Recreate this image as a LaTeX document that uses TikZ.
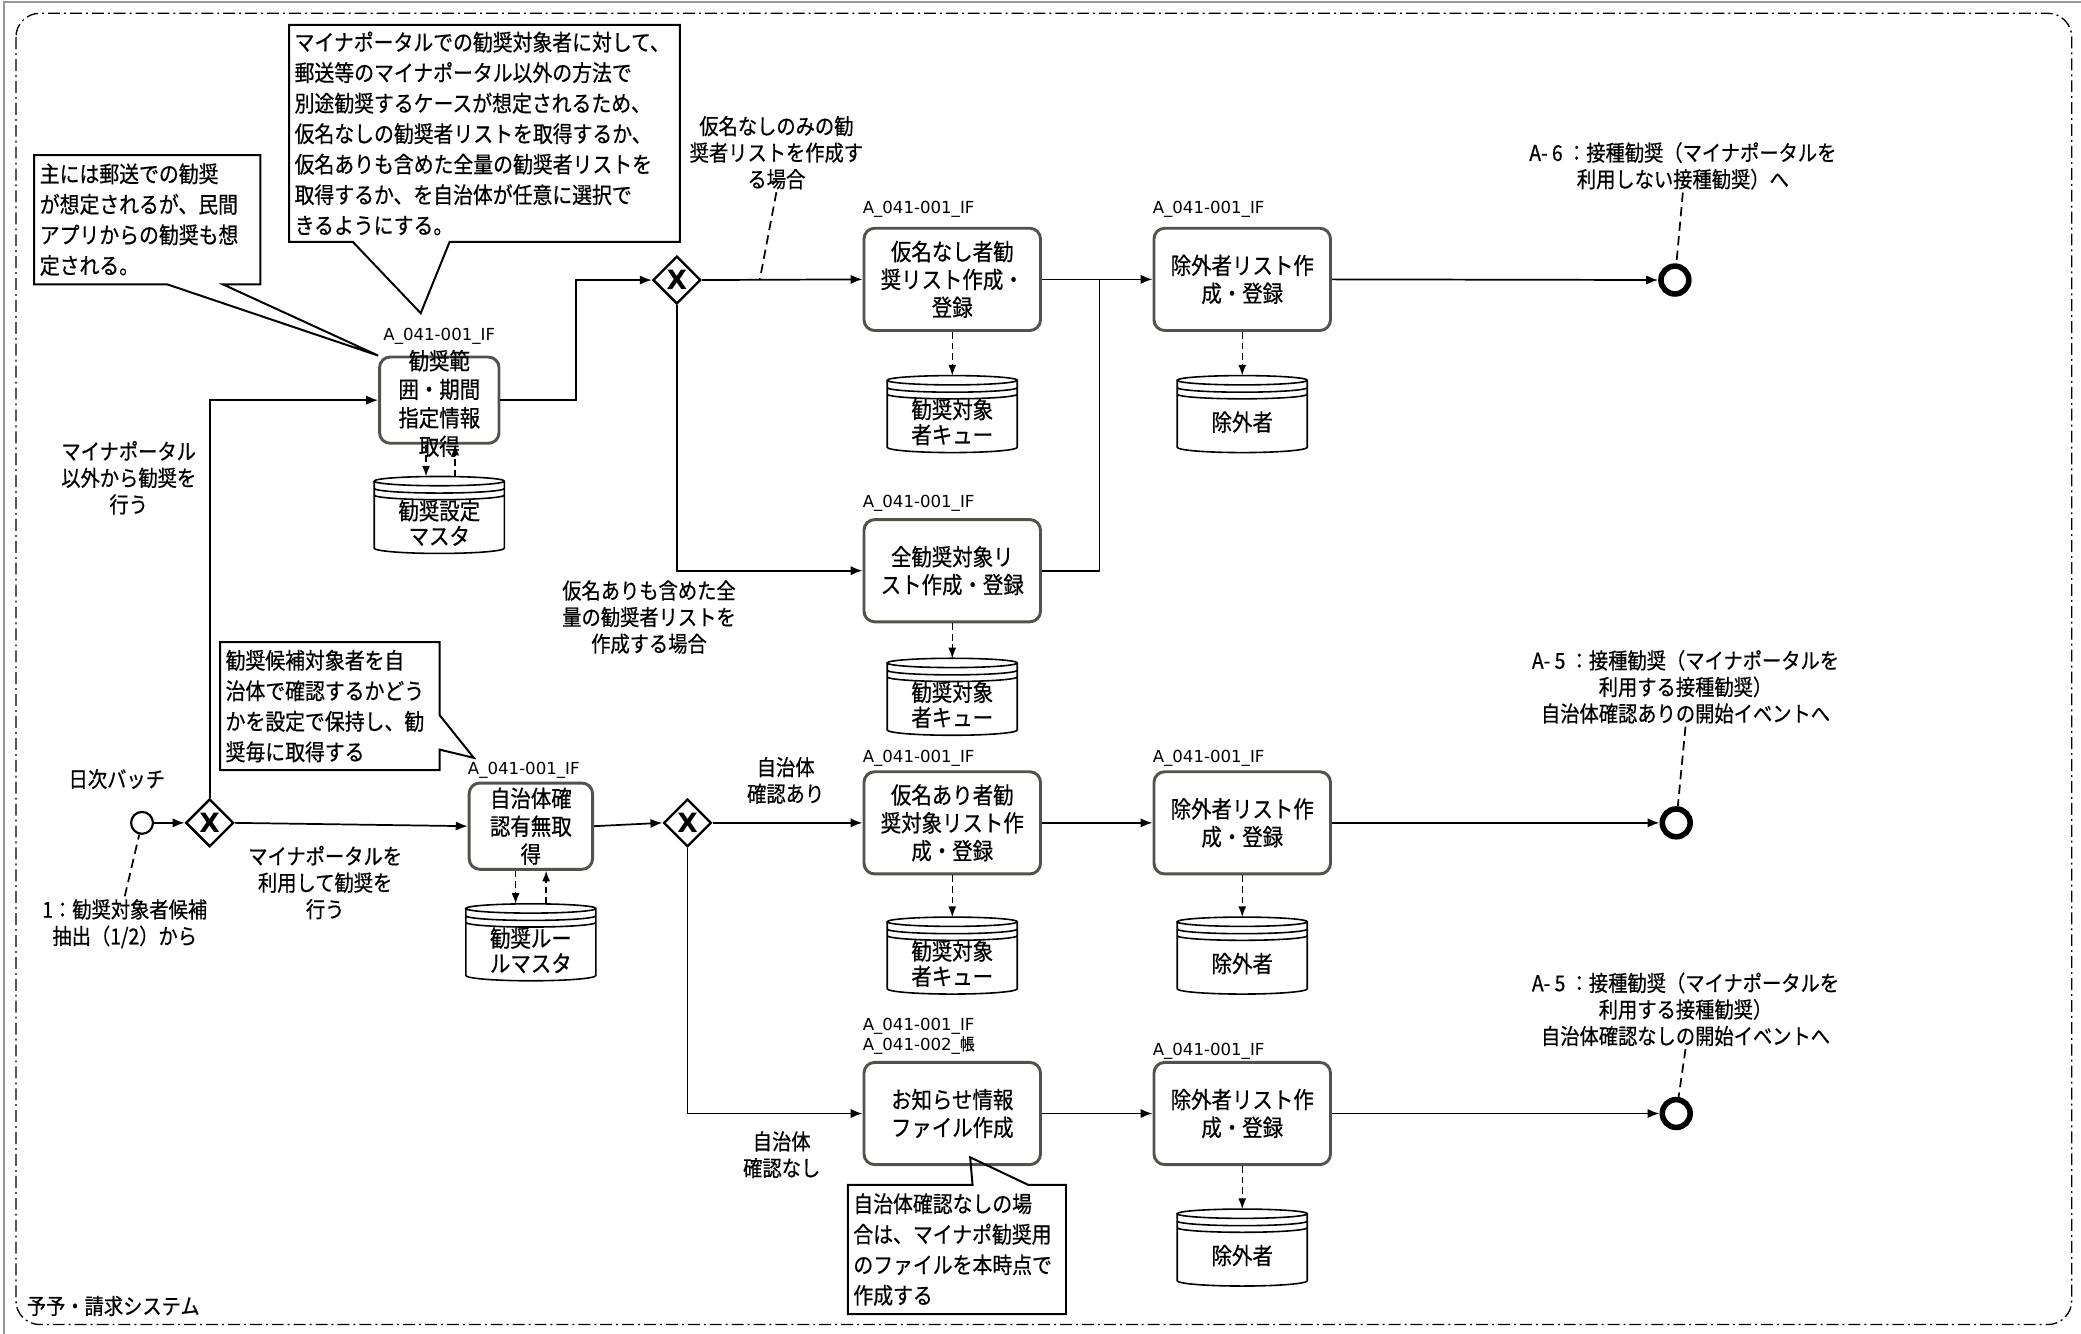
\documentclass[tikz,border=0pt]{standalone}
\usepackage{fontspec}
\setmainfont{Noto Sans CJK JP}[FakeStretch=0.88, FakeBold=0.6]
\newfontfamily\idfont{DejaVu Sans}
\usetikzlibrary{shapes.geometric}
\usetikzlibrary{arrows.meta}
\usetikzlibrary{calc}
\definecolor{taskgray}{RGB}{82,82,76}
\definecolor{framegray}{RGB}{150,150,150}
\newcommand{\ifname}{{\idfont A\_041-001\_IF}}
\tikzset{
  task/.style={draw=taskgray, line width=2.2pt, rounded corners=8pt, align=center,
    font=\fontsize{17.5}{21}\selectfont, minimum width=133pt, minimum height=77pt, inner sep=2pt},
  tasktext/.style={align=center, font=\fontsize{17.5}{21.5}\selectfont, inner sep=0pt},
  idtext/.style={align=left, font=\fontsize{12.5}{15}\selectfont, inner sep=0pt},
  gateway/.style={draw, diamond, line width=1.8pt, minimum size=36pt, inner sep=0pt,
    font=\idfont\bfseries\fontsize{20}{20}\selectfont},
  startev/.style={draw, circle, line width=1.6pt, minimum size=16.5pt, inner sep=0pt},
  endev/.style={draw, circle, line width=4.2pt, minimum size=21pt, inner sep=0pt},
  store/.style={minimum width=98pt, minimum height=38pt, inner sep=0pt, outer sep=0pt,
    align=center, font=\fontsize{17.5}{19}\selectfont},
  storeline/.style={line width=1.2pt},
  note/.style={align=left, inner sep=4pt, font=\fontsize{17}{23}\selectfont},
  noteline/.style={line width=1.5pt, line join=miter},
  lbl/.style={align=center, inner sep=2pt, font=\fontsize{16.5}{20}\selectfont},
  seq/.style={line width=1.3pt},
  flow/.style={seq, -{Latex[length=9pt, width=7pt]}},
  assoc/.style={line width=1.1pt, dash pattern=on 5pt off 3pt, -{Latex[length=8pt, width=6pt]}},
  textlink/.style={line width=1.3pt, dash pattern=on 7pt off 4pt},
  pool/.style={line width=1pt, rounded corners=18pt, dash pattern=on 9pt off 3pt on 1.5pt off 3pt},
}

\begin{document}
\begin{tikzpicture}[x=1pt, y=-1pt]
\useasboundingbox (0,0) rectangle (1568,1005);
\draw[framegray, line width=1.2pt] (3,1005) -- (3,1.5) -- (1568,1.5);
\draw[pool] (12,10) rectangle (1561,998);
\node[lbl, anchor=west] (sys) at (18,984) {予予・請求システム};

% start and first split
\node[startev] (start) at (107,620) {};
\node[lbl] (batch) at (88,587) {日次バッチ};
\node[lbl] (src) at (94,696) {1：勧奨対象者候補\\抽出（1/2）から};
\node[gateway] (gw1) at (158,620) {X};
\node[lbl] (other) at (97,360) {マイナポータル\\以外から勧奨を\\行う};
\node[lbl] (portal) at (245,665) {マイナポータルを\\利用して勧奨を\\行う};

% upper branch
\node[task, minimum width=90pt, minimum height=65pt,
  label={[idtext, anchor=south, yshift=8pt]north:\ifname},
  label={[tasktext, yshift=-2.5pt]center:{勧奨範\\囲・期間\\指定情報\\取得}}] (rng) at (331,301.5) {};
\node[store] (rngdb) at (331,394) {勧奨設定\\マスタ};
\node[gateway] (gw2) at (510,211) {X};
\node[lbl] (onlyno) at (585,115) {仮名なしのみの勧\\奨者リストを作成す\\る場合};
\node[lbl] (withall) at (489,465) {仮名ありも含めた全\\量の勧奨者リストを\\作成する場合};
\node[task, label={[idtext, anchor=south west, yshift=7pt]north west:\ifname}] (kna) at (717.5,210.5) {仮名なし者勧\\奨リスト作成・\\登録};
\node[store] (q1) at (717.5,318) {勧奨対象\\者キュー};
\node[task, label={[idtext, anchor=south west, yshift=5pt]north west:\ifname}] (all) at (717.5,430) {全勧奨対象リ\\スト作成・登録};
\node[store] (q2) at (717.5,531) {勧奨対象\\者キュー};
\node[task, label={[idtext, anchor=south west, yshift=7pt]north west:\ifname}] (ex1) at (936,210.5) {除外者リスト作\\成・登録};
\node[store] (ex1db) at (936,318) {除外者};
\node[endev] (end1) at (1262,211) {};
\node[lbl] (a6) at (1268,125) {A- 6 ：接種勧奨（マイナポータルを\\利用しない接種勧奨）へ};

% middle branch
\node[task, minimum width=93pt, minimum height=65pt,
  label={[idtext, anchor=south west, yshift=2pt]north west:\ifname}] (chk) at (400,622.5) {自治体確\\認有無取\\得};
\node[store] (ruledb) at (400,716) {勧奨ルー\\ルマスタ};
\node[gateway] (gw3) at (518,620) {X};
\node[lbl] (yes) at (592,588) {自治体\\確認あり};
\node[lbl] (no) at (589,870) {自治体\\確認なし};
\node[task, label={[idtext, anchor=south west, yshift=3pt]north west:\ifname}] (kari) at (717.5,620) {仮名あり者勧\\奨対象リスト作\\成・登録};
\node[store] (q3) at (717.5,726) {勧奨対象\\者キュー};
\node[task, label={[idtext, anchor=south west, yshift=3pt]north west:\ifname}] (ex2) at (936,620) {除外者リスト作\\成・登録};
\node[store] (ex2db) at (936,726) {除外者};
\node[endev] (end2) at (1263,620) {};
\node[lbl] (a5yes) at (1270,517.5) {A- 5 ：接種勧奨（マイナポータルを\\利用する接種勧奨）\\自治体確認ありの開始イベントへ};

% lower branch
\node[task, label={[idtext, anchor=south west, yshift=5pt]north west:{\ifname\\{\idfont A\_041-002\_}帳}}] (info) at (717.5,839) {お知らせ情報\\ファイル作成};
\node[task, label={[idtext, anchor=south west, yshift=1pt]north west:\ifname}] (ex3) at (936,839) {除外者リスト作\\成・登録};
\node[store] (ex3db) at (936,946) {除外者};
\node[endev] (end3) at (1263,839) {};
\node[lbl] (a5no) at (1270,760.5) {A- 5 ：接種勧奨（マイナポータルを\\利用する接種勧奨）\\自治体確認なしの開始イベントへ};

% notes
\node[note, text width=162pt, minimum height=97pt] (note1) at (111,165.5) {主には郵送での勧奨\\が想定されるが、民間\\アプリからの勧奨も想\\定される。};
\node[note, text width=286pt, minimum height=163pt] (note2) at (365,100.5) {マイナポータルでの勧奨対象者に対して、\\郵送等のマイナポータル以外の方法で\\別途勧奨するケースが想定されるため、\\仮名なしの勧奨者リストを取得するか、\\仮名ありも含めた全量の勧奨者リストを\\取得するか、を自治体が任意に選択で\\きるようにする。};
\node[note, text width=157pt, minimum height=96pt] (note3) at (248.5,532) {勧奨候補対象者を自\\治体で確認するかどう\\かを設定で保持し、勧\\奨毎に取得する};
\node[note, text width=156pt, minimum height=97pt] (note4) at (721,941.5) {自治体確認なしの場\\合は、マイナポ勧奨用\\のファイルを本時点で\\作成する};
\coordinate (tip2) at (317,236);
\coordinate (tip3) at (357,571);
\coordinate (tip4) at (731,872);
\draw[noteline] (note1.south west) -- (note1.north west) -- (note1.north east) -- (note1.south east)
  -- ([xshift=142pt]note1.south west) -- (rng.north west) -- ([xshift=100pt]note1.south west) -- cycle;
\draw[noteline] (note2.south west) -- (note2.north west) -- (note2.north east) -- (note2.south east)
  -- ([xshift=121pt]note2.south west) -- (tip2) -- ([xshift=48pt]note2.south west) -- cycle;
\draw[noteline] (note3.south west) -- (note3.north west) -- (note3.north east)
  -- ([yshift=-55pt]note3.north east) -- (tip3) -- ([yshift=-81pt]note3.north east) -- (note3.south east) -- cycle;
\draw[noteline] (note4.south west) -- (note4.north west) -- ([xshift=94pt]note4.north west) -- (tip4)
  -- ([xshift=136pt]note4.north west) -- (note4.north east) -- (note4.south east) -- cycle;

% data stores
\foreach \s in {rngdb,q1,q2,q3,ruledb,ex1db,ex2db,ex3db}
  \draw[storeline] ([yshift=12.5pt]\s.north west) -- (\s.south west)
    arc[start angle=180, end angle=360, x radius=49pt, y radius=4pt]
    -- ([yshift=12.5pt]\s.north east)
    arc[start angle=0, end angle=180, x radius=49pt, y radius=3.5pt]
    arc[start angle=180, end angle=360, x radius=49pt, y radius=3.5pt]
    ([yshift=7pt]\s.north west) arc[start angle=180, end angle=360, x radius=49pt, y radius=3.5pt]
    ([yshift=2pt]\s.north west) arc[start angle=180, end angle=360, x radius=49pt, y radius=3.5pt];

% sequence flows
\draw[flow] (start) -- (gw1);
\draw[flow] (gw1.north) |- (rng.west);
\draw[flow] (gw1.east) -- (chk.west);
\draw[flow] (rng.east) -- ++(57pt,0pt) |- (gw2.west);
\draw[flow] (gw2.east) -- (kna.west);
\draw[flow] (gw2.south) |- (all.west);
\draw[flow] (kna.east) -- (ex1.west);
\coordinate (join) at ($(kna.east)!0.52!(ex1.west)$);
\draw[seq] (all.east) -| (join);
\draw[flow] (ex1.east) -- (end1);
\draw[flow] (chk.east) -- (gw3.west);
\draw[flow] (gw3.east) -- (kari.west);
\draw[flow] (gw3.south) |- (info.west);
\draw[flow] (kari.east) -- (ex2.west);
\draw[flow] (ex2.east) -- (end2);
\draw[flow] (info.east) -- (ex3.west);
\draw[flow] (ex3.east) -- (end3);

% data associations
\draw[assoc] ([xshift=-10pt]rng.south) -- ([xshift=-10pt, yshift=16pt]rngdb.north);
\draw[assoc] ([xshift=12pt, yshift=16pt]rngdb.north) -- ([xshift=12pt]rng.south);
\draw[assoc] ([xshift=-11.5pt]chk.south) -- ([xshift=-11.5pt, yshift=16pt]ruledb.north);
\draw[assoc] ([xshift=11.5pt, yshift=16pt]ruledb.north) -- ([xshift=11.5pt]chk.south);
\draw[assoc] (kna.south) -- ([yshift=16pt]q1.north);
\draw[assoc] (all.south) -- ([yshift=16pt]q2.north);
\draw[assoc] (kari.south) -- ([yshift=16pt]q3.north);
\draw[assoc] (ex1.south) -- ([yshift=16pt]ex1db.north);
\draw[assoc] (ex2.south) -- ([yshift=16pt]ex2db.north);
\draw[assoc] (ex3.south) -- ([yshift=16pt]ex3db.north);

% text links
\coordinate (nopt) at ($(gw2.east)!0.36!(kna.west)$);
\draw[textlink] (src.north) -- (start);
\draw[textlink] (onlyno.south) -- (nopt);
\draw[textlink] (a6.south) -- (end1);
\draw[textlink] (a5yes.south) -- (end2);
\draw[textlink] (a5no.south) -- (end3);
\end{tikzpicture}
\end{document}
